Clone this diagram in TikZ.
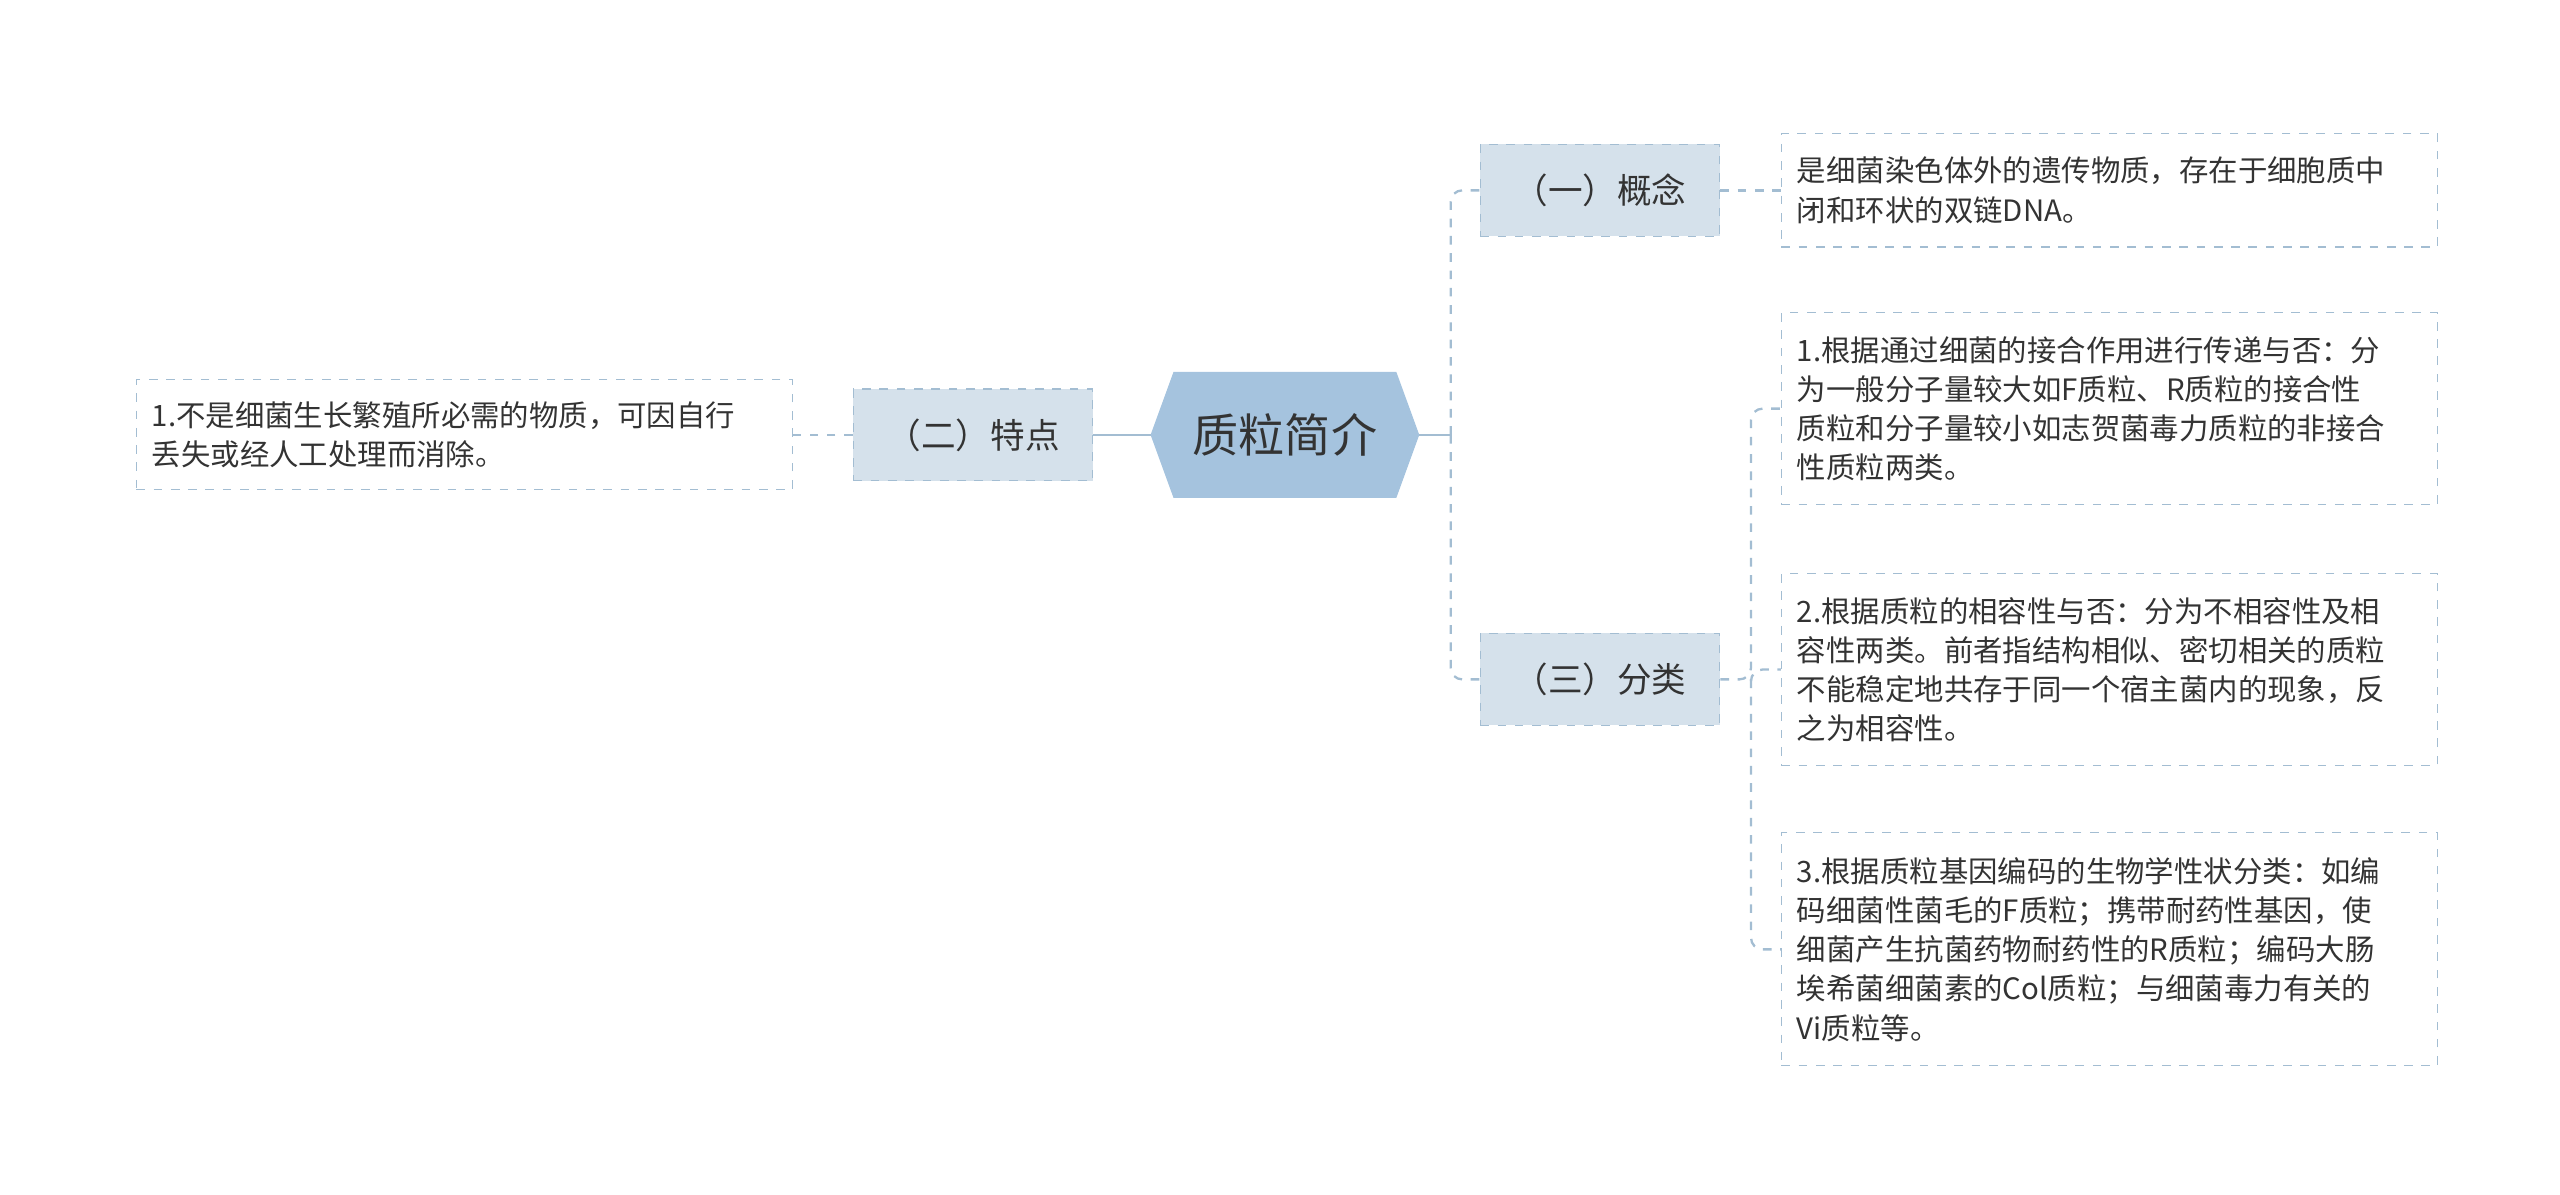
\documentclass[tikz,border=0pt]{standalone}
\usepackage{fontspec}
\setmainfont{Noto Sans CJK SC}
\usetikzlibrary{shapes.symbols}
\definecolor{rootfill}{HTML}{A5C3DE}
\definecolor{midfill}{HTML}{D5E1EB}
\definecolor{linec}{HTML}{A3BDD2}
\definecolor{textc}{HTML}{333333}

\begin{document}
\begin{tikzpicture}[%
    x=0.02cm,
    y=-0.02cm,
    font=\fontsize{10.2}{13.6}\selectfont,
    text=textc,
    root/.style={%
      signal,
      signal to=east and west,
      signal pointer angle=140,
      fill=rootfill,
      draw=rootfill,
      minimum width=3.26cm,
      minimum height=1.52cm,
      font=\fontsize{16}{18}\selectfont
    },
    topic/.style={%
      rectangle,
      fill=midfill,
      draw=linec,
      dashed,
      minimum width=2.92cm,
      minimum height=1.12cm,
      font=\fontsize{12}{14}\selectfont
    },
    leaf/.style={%
      rectangle,
      draw=linec,
      dashed,
      text width=7.62cm,
      minimum width=8.0cm,
      align=left,
      inner xsep=0.16cm
    },
    link/.style={draw=linec, line width=0.8pt, dashed, rounded corners=4pt}
  ]
    \useasboundingbox (0,0) rectangle (1560,728);

    \node[root]  (plasmid) at (783,265)  {质粒简介};
    \node[topic] (trait)   at (593,265)  {（二）特点};
    \node[topic] (concept) at (975,116)  {（一）概念};
    \node[topic] (classes) at (975,414)  {（三）分类};

    \node[leaf, minimum height=1.34cm] (traitleaf) at (283,265)
      {1.不是细菌生长繁殖所必需的物质，可因自行\\丢失或经人工处理而消除。};
    \node[leaf, minimum height=1.38cm] (conceptleaf) at (1285.5,116)
      {是细菌染色体外的遗传物质，存在于细胞质中\\闭和环状的双链DNA。};
    \node[leaf, minimum height=2.34cm] (classa) at (1285.5,249)
      {1.根据通过细菌的接合作用进行传递与否：分\\为一般分子量较大如F质粒、R质粒的接合性\\质粒和分子量较小如志贺菌毒力质粒的非接合\\性质粒两类。};
    \node[leaf, minimum height=2.34cm] (classb) at (1285.5,408)
      {2.根据质粒的相容性与否：分为不相容性及相\\容性两类。前者指结构相似、密切相关的质粒\\不能稳定地共存于同一个宿主菌内的现象，反\\之为相容性。};
    \node[leaf, minimum height=2.84cm] (classc) at (1285.5,578.5)
      {3.根据质粒基因编码的生物学性状分类：如编\\码细菌性菌毛的F质粒；携带耐药性基因，使\\细菌产生抗菌药物耐药性的R质粒；编码大肠\\埃希菌细菌素的Col质粒；与细菌毒力有关的\\Vi质粒等。};

    \draw[draw=linec, line width=0.8pt] (plasmid.west) -- (trait.east);
    \draw[draw=linec, line width=0.8pt] (plasmid.east) -- (884,265);
    \draw[link] (884,265) |- (concept.west);
    \draw[link] (884,265) |- (classes.west);
    \draw[link] (trait.west) -- (traitleaf.east);
    \draw[link] (concept.east) -- (conceptleaf.west);
    \draw[link] (classes.east) -- (1067,414) |- (classa.west);
    \draw[link] (1067,414) |- (classb.west);
    \draw[link] (1067,414) |- (classc.west);
  \end{tikzpicture}
\end{document}
